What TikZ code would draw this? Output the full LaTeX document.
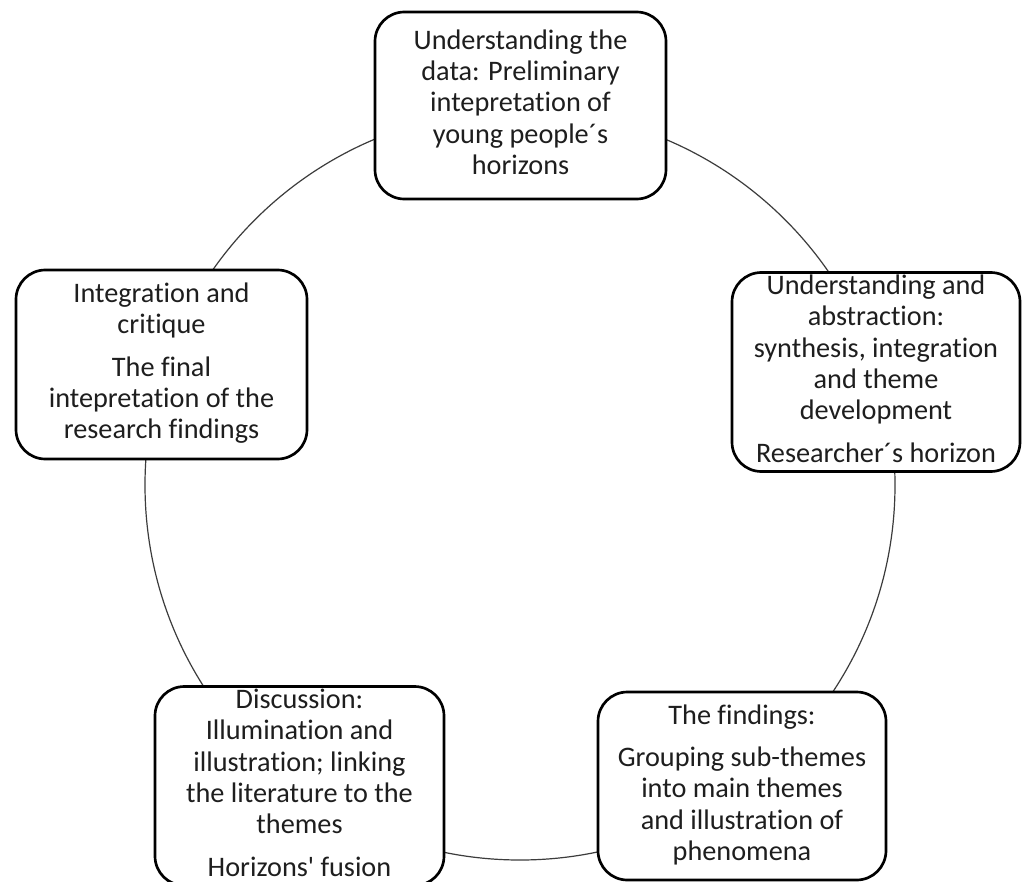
\documentclass[tikz,border=0pt]{standalone}
\usepackage{fontspec}
\setmainfont{Carlito}[Ligatures={TeXOff,CommonOff}]
\begin{document}
\begin{tikzpicture}[x=0.75pt,y=-0.75pt,
  stagebox/.style={draw=black, line width=2pt, rounded corners=22pt, fill=white,
    inner sep=0pt, text={rgb,255:red,30;green,30;blue,30}, font=\fontsize{21.2}{23.5}\selectfont},
  cycleline/.style={draw={rgb,255:red,60;green,60;blue,60}, line width=0.9pt}]
\useasboundingbox (0,0) rectangle (1025,882);
\fill[white] (0,0) rectangle (1025,882);
\coordinate (mid) at (520,485);
\draw[cycleline] (mid) circle[radius=281.25pt];

\node[stagebox, minimum width=218.25pt, minimum height=140.25pt] (top) at (520.5,105.5)
  {\begin{tabular}{@{}c@{}}Understanding the\\ data: Preliminary\\ intepretation of\\ young people´s\\ horizons\end{tabular}};

\node[stagebox, minimum width=216pt, minimum height=147pt] (right) at (876,372)
  {\begin{tabular}{@{}c@{}}Understanding and\\ abstraction:\\ synthesis, integration\\ and theme\\ development\\[8.25pt] Researcher´s horizon\end{tabular}};

\node[stagebox, minimum width=216pt, minimum height=141pt] (bright) at (742,786)
  {\begin{tabular}{@{}c@{}}The findings:\\[8.25pt] Grouping sub-themes\\ into main themes\\ and illustration of\\ phenomena\end{tabular}};

\node[stagebox, minimum width=216.75pt, minimum height=141pt] (bleft) at (299.5,786)
  {\begin{tabular}{@{}c@{}}Discussion:\\ Illumination and\\ illustration; linking\\ the literature to the\\ themes\\[8.25pt] Horizons' fusion\end{tabular}};

\node[stagebox, minimum width=218.25pt, minimum height=141.75pt] (left) at (161.5,364.5)
  {\begin{tabular}{@{}c@{}}Integration and\\ critique\\[8.25pt] The final\\ intepretation of the\\ research findings\end{tabular}};
\end{tikzpicture}
\end{document}
